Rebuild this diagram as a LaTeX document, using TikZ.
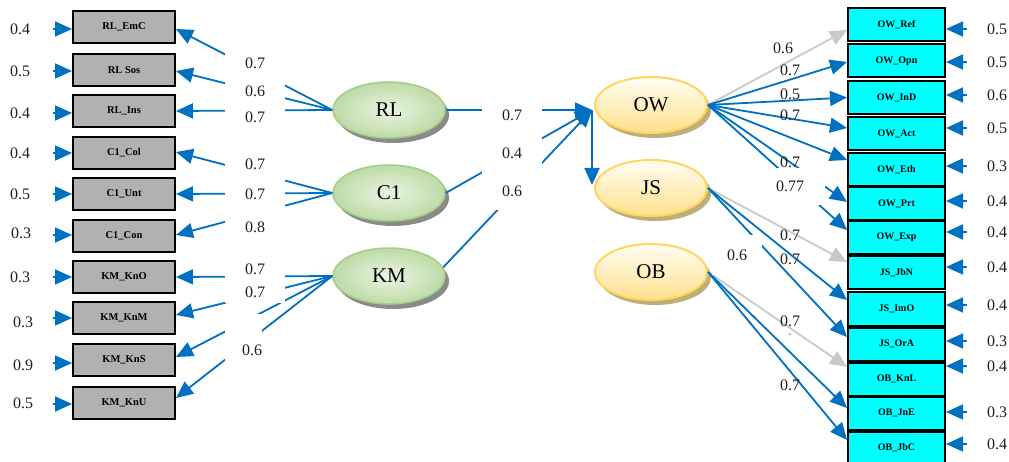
\documentclass[tikz,border=0pt]{standalone}
\usepackage{fontspec}
\setmainfont{Liberation Serif}
\usetikzlibrary{arrows.meta,shadows,calc,shapes.geometric}
\definecolor{arrblue}{HTML}{0070C0}
\definecolor{lgray}{HTML}{C9C9C9}
\definecolor{boxgray}{HTML}{B1B1B1}
\definecolor{boxcyan}{HTML}{00FFFF}
\definecolor{gborder}{HTML}{A4CE88}
\definecolor{ginner}{HTML}{EAF4E3}
\definecolor{gouter}{HTML}{BDDBA6}
\definecolor{yborder}{HTML}{FFD660}
\definecolor{ytop}{HTML}{FFFDF4}
\definecolor{ybot}{HTML}{FFE18C}
\definecolor{yshadow}{HTML}{BFAE78}
\definecolor{gshadow}{HTML}{8A8A8A}
\tikzset{
  lvbox/.style={rectangle, draw=black, line width=2pt, fill=boxgray, minimum width=102pt, minimum height=32pt, inner sep=0pt, font=\fontsize{10.5}{12}\selectfont\bfseries},
  rvbox/.style={lvbox, fill=boxcyan, minimum width=97pt, minimum height=33pt, font=\fontsize{10}{12}\selectfont\bfseries},
  gell/.style={ellipse, draw=gborder, line width=1.5pt, inner color=ginner, outer color=gouter, minimum width=112pt, minimum height=56pt, inner sep=0pt, font=\fontsize{21}{24}\selectfont, drop shadow={shadow xshift=4pt, shadow yshift=-5pt, fill=gshadow, opacity=1}},
  yell/.style={ellipse, draw=yborder, line width=2pt, top color=ytop, bottom color=ybot, minimum width=112pt, minimum height=56pt, inner sep=0pt, font=\fontsize{21}{24}\selectfont, drop shadow={shadow xshift=4pt, shadow yshift=-5pt, fill=yshadow, opacity=1}},
  ld/.style={draw=arrblue, line width=1.8pt, -{Triangle[length=17pt,width=15pt]}},
  gld/.style={ld, draw=lgray},
  num/.style={font=\fontsize{16}{18}\selectfont, inner sep=0pt, text=black!88},
  mk/.style={num, fill=white},
}
\begin{document}
\begin{tikzpicture}[x=1pt,y=-1pt]
\useasboundingbox (0,0) rectangle (1009,462);
\fill[white] (0,0) rectangle (1009,462);
% left indicators
\foreach \nm/\tx/\yc/\ya/\ev/\ex/\ey in {
EmC/RL\_EmC/27/29/0.4/20/29,
Sos/RL Sos/70/71/0.5/20/71,
Ins/RL\_Ins/111/113/0.4/20/113,
Col/C1\_Col/153/153/0.4/20/153,
Unt/C1\_Unt/194/194/0.5/20/194,
Con/C1\_Con/236/235/0.3/21/233,
KnO/KM\_KnO/277/277/0.3/20/277,
KnM/KM\_KnM/318/318/0.3/23/322,
KnS/KM\_KnS/360/363/0.9/23/365,
KnU/KM\_KnU/403/404/0.5/23/403}
{
  \node[lvbox] (\nm) at (124,\yc) {\tx};
  \node[num] (r\nm) at (\ex,\ey) {\ev};
  \coordinate (c\nm) at (53,\ya);
  \draw[ld] (c\nm) -- (c\nm -| \nm.west);
}
% right indicators
\foreach \nm/\tx/\yc/\ya/\ev in {
Ref/OW\_Ref/25/29/0.5,
Opn/OW\_Opn/61/62/0.5,
InD/OW\_InD/97.5/95/0.6,
Act/OW\_Act/133.5/128/0.5,
Eth/OW\_Eth/170/166/0.3,
Prt/OW\_Prt/204/201/0.4,
Exp/OW\_Exp/237.5/232/0.4,
JbN/JS\_JbN/272.5/267/0.4,
ImO/JS\_ImO/309/305/0.4,
OrA/JS\_OrA/344/341/0.3,
KnL/OB\_KnL/379/366/0.4,
JnE/OB\_JnE/413/412/0.3,
JbC/OB\_JbC/448/444/0.4}
{
  \node[rvbox] (\nm) at (896.5,\yc) {\tx};
  \node[num] (r\nm) at (997,\ya) {\ev};
  \coordinate (c\nm) at (967,\ya);
  \draw[ld] (c\nm) -- (c\nm -| \nm.east);
}
% latent variables
\node[gell] (RL) at (389,110) {RL};
\node[gell] (C1) at (389,193) {C1};
\node[gell] (KM) at (389,276) {KM};
\node[yell] (OW) at (651,105) {OW};
\node[yell] (JS) at (651,188) {JS};
\node[yell] (OB) at (651,272) {OB};
% left loadings
\foreach \s/\t/\d in {RL/EmC/2, RL/Sos/1, RL/Ins/0, C1/Col/-1, C1/Unt/0, C1/Con/-1, KM/KnO/0, KM/KnM/-3, KM/KnS/-3, KM/KnU/-5}
  \draw[ld] (\s.west) -- ($(\t.east)+(0,\d)$);
% structural paths
\coordinate (owin) at ($(OW.west)+(-2,5)$);
\draw[ld] (RL.east) -- (owin);
\draw[ld] (C1.east) -- (owin);
\draw[ld] (KM.9) -- (owin);
\draw[ld] (owin) -- ($(owin |- JS.west)+(0,-3)$);
% right loadings
\draw[gld] (OW.east) -- ($(Ref.west)+(0,5)$);
\foreach \tg/\d in {Opn/1, InD/0, Act/-5.5, Eth/-10, Prt/-2, Exp/-7.5}
  \draw[ld] (OW.east) -- ($(\tg.west)+(0,\d)$);
\draw[gld] (JS.east) -- ($(JbN.west)+(0,-10.5)$);
\draw[ld] (JS.east) -- ($(ImO.west)+(0,-9)$);
\draw[ld] (JS.east) -- ($(OrA.west)+(0,-7)$);
\draw[gld] (OB.east) -- ($(KnL.west)+(0,-12)$);
\draw[ld] (OB.east) -- ($(JnE.west)+(0,-5)$);
\draw[ld] (OB.east) -- ($(JbC.west)+(0,-8)$);
% left labels
\node[mk, minimum width=60pt, minimum height=30pt] (l1) at (255,63) {0.7};
\node[mk, minimum width=60pt, minimum height=28pt] (l2) at (255,91) {0.6};
\node[mk, minimum width=60pt, minimum height=28pt] (l3) at (255,117) {0.7};
\node[mk, minimum width=60pt, minimum height=30pt] (l4) at (255,164) {0.7};
\node[mk, minimum width=60pt, minimum height=32pt] (l5) at (255,194) {0.7};
\node[mk, minimum width=60pt, minimum height=36pt] (l6) at (255,227) {0.8};
\node[mk, minimum width=60pt, minimum height=30pt] (l7) at (255,269) {0.7};
\node[mk, minimum width=60pt, minimum height=20pt] (l8) at (255,292.5) {0.7};
\node[mk, anchor=north west, text width=37pt, align=right, text height=41.5pt, text depth=16.5pt] (l9) at (225,314) {0.6};
% middle labels
\node[mk, minimum width=60pt, minimum height=39pt] (m1) at (512,115) {0.7};
\node[mk, minimum width=60pt, minimum height=39pt] (m2) at (512,153) {0.4};
\node[mk, minimum width=60pt, minimum height=39pt] (m3) at (512,191) {0.6};
% right labels
\node[num] (p1) at (783,48) {0.6};
\node[num] (p2) at (790,70) {0.7};
\node[num] (p3) at (790,94) {0.5};
\node[num] (p4) at (790,115) {0.7};
\node[num] (p5) at (790,162) {0.7};
\node[mk, minimum width=70pt, minimum height=37pt] (p6) at (790,186.5) {0.77};
\node[mk, minimum width=50pt, minimum height=40pt] (s1) at (737,255) {0.6};
\node[num] (s2) at (790,235) {0.7};
\node[num] (s3) at (790,259) {0.7};
\node[num] (b1) at (790,321) {0.7};
\node[num, font=\fontsize{8}{9}\selectfont] (b2) at (790,335) {-};
\node[num] (b3) at (790,385) {0.7};
\end{tikzpicture}
\end{document}
